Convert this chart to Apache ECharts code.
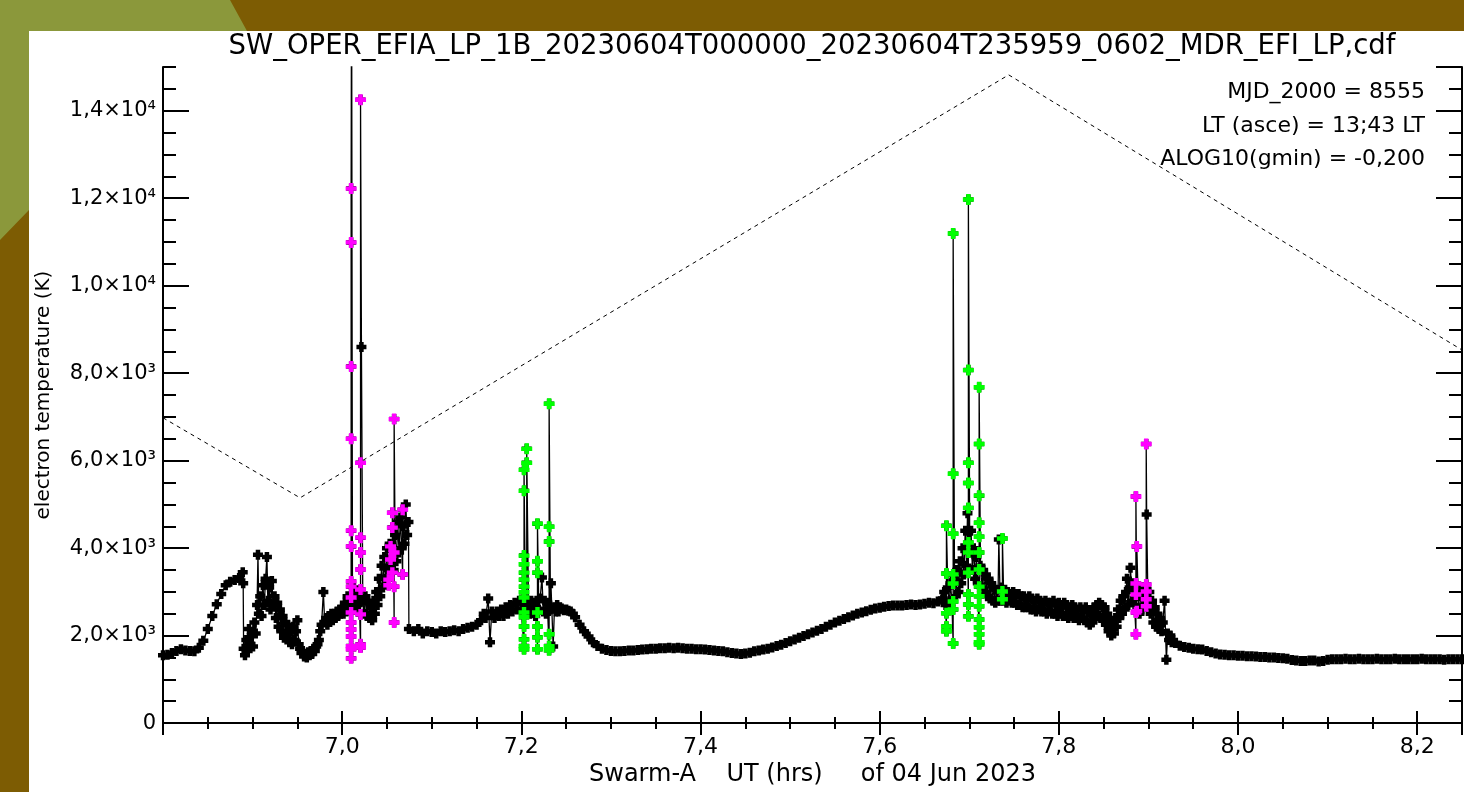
<!DOCTYPE html>
<html>
<head>
<meta charset="utf-8">
<script src="https://cdn.jsdelivr.net/npm/echarts@6/dist/echarts.min.js"></script>
<style>
  html, body { margin: 0; padding: 0; }
  body { width: 1464px; height: 792px; background: #7d5c03; position: relative; overflow: hidden; }
  #leaf { position: absolute; left: 0; top: 0; width: 260px; height: 260px; background: #8b983b;
          clip-path: polygon(0 0, 230px 0, 247px 31px, 29px 31px, 29px 210px, 0 240px); }
  #panel { position: absolute; left: 29px; top: 31px; right: 0; bottom: 0; background: #fff; }
  #chart { position: absolute; left: 0; top: 0; width: 1464px; height: 792px; }
</style>
</head>
<body>
<div id="leaf"></div>
<div id="panel"></div>
<div id="chart"></div>
<script>
// electron temperature (UT hours, K)
var teBlack = [
  [6.800,1550],[6.805,1560],[6.810,1600],[6.815,1650],[6.820,1690],[6.825,1660],[6.830,1650],[6.835,1640],
  [6.840,1720],[6.845,1880],[6.850,2150],[6.855,2450],[6.860,2720],[6.865,2950],[6.870,3150],[6.875,3230],
  [6.880,3270],[6.885,3320],[6.889,3450],[6.8895,3200],
  [6.8900,1700],[6.8915,1550],[6.893,1900],[6.8945,1650],[6.896,2150],[6.8975,1800],[6.899,2000],[6.9005,1750],
  [6.902,2300],[6.9035,2050],[6.905,2700],[6.906,3850],[6.907,2500],[6.9085,2900],[6.910,2450],[6.9115,3150],
  [6.913,2700],[6.9145,3300],[6.916,3800],[6.917,2800],[6.9185,3100],[6.920,2600],[6.9215,3250],[6.923,2700],
  [6.9245,2900],[6.926,2400],[6.9275,2750],[6.929,2200],[6.9305,2600],[6.932,2100],[6.9335,2450],[6.935,1950],
  [6.9365,2300],[6.938,2000],[6.9395,2250],[6.941,1850],[6.9425,2100],[6.944,1800],[6.9455,2200],[6.947,1900],
  [6.9485,2100],[6.950,2350],[6.9515,1800],[6.953,1700],[6.9545,1600],[6.956,1650],[6.9575,1520],[6.959,1580],
  [6.9605,1500],[6.962,1620],[6.9635,1550],[6.965,1650],[6.9665,1580],[6.968,1700],[6.9695,1650],[6.971,1750],
  [6.9725,1800],[6.974,1900],[6.9755,2100],[6.977,2250],[6.979,3000],[6.9805,2300],[6.982,2400],[6.9835,2250],
  [6.985,2450],[6.9865,2350],[6.988,2500],[6.9895,2350],[6.991,2500],[6.9925,2400],[6.994,2550],[6.9955,2450],
  [6.997,2600],[6.9985,2500],[7.000,2650],[7.0015,2500],[7.003,2750],[7.0045,2550],[7.006,2900],[7.0075,2650],
  [7.009,2800],[7.0105,18000],[7.0115,2700],[7.013,3100],[7.0145,2600],[7.016,3000],[7.0175,2700],[7.019,2900],
  [7.0215,8600],
  [7.023,2800],[7.0245,2500],[7.026,2900],[7.0275,2450],[7.029,2750],[7.0305,2400],[7.032,2650],[7.0335,2350],
  [7.035,2800],[7.0365,2500],[7.038,3000],[7.0395,2700],[7.041,3300],[7.0425,2900],[7.044,3600],[7.0455,3100],
  [7.047,3800],[7.0485,3300],[7.050,4000],[7.0515,3500],[7.053,4100],[7.0545,3600],[7.056,4000],[7.0575,3500],
  [7.059,4300],[7.0605,3700],[7.062,4600],[7.0635,3900],[7.065,4700],[7.0665,4000],[7.068,4500],[7.0695,4100],
  [7.071,5000],[7.0725,4300],[7.074,4600],[7.0745,2150],
  [7.080,2100],[7.085,2150],[7.090,2050],[7.095,2100],[7.100,2080],[7.105,2050],[7.110,2100],[7.115,2080],
  [7.120,2100],[7.125,2120],[7.130,2100],[7.135,2150],[7.140,2180],[7.145,2200],[7.150,2250],[7.155,2350],
  [7.158,2500],[7.160,2400],[7.163,2850],[7.165,1850],[7.167,2550],[7.170,2400],[7.1725,2550],[7.175,2450],
  [7.1775,2600],[7.180,2450],[7.1825,2650],[7.185,2500],[7.1875,2700],[7.190,2550],[7.1925,2750],[7.195,2600],
  [7.1975,2800],[7.200,2600],[7.2045,2750],[7.206,2500],[7.208,2700],[7.2095,2500],[7.211,2800],[7.2125,2550],
  [7.214,2750],[7.2155,2450],[7.217,2800],[7.2195,2600],[7.221,2850],[7.223,3330],[7.2245,2550],[7.226,2800],
  [7.2275,2500],[7.229,2750],[7.2325,2600],[7.233,3200],[7.2355,1750],[7.237,2650],[7.2385,2550],[7.240,2700],
  [7.2415,2550],[7.243,2650],[7.245,2620],[7.2475,2580],[7.250,2600],[7.2525,2570],[7.255,2550],[7.2575,2500],
  [7.260,2420],[7.265,2250],[7.270,2100],[7.275,1980],[7.280,1850],[7.285,1760],[7.290,1700],[7.295,1670],
  [7.300,1650],[7.305,1645],[7.310,1640],
  [7.315,1650],[7.320,1660],[7.325,1660],[7.330,1670],[7.335,1680],[7.340,1690],[7.345,1700],[7.350,1700],
  [7.355,1710],[7.360,1710],[7.365,1720],[7.370,1710],[7.375,1720],[7.380,1710],[7.385,1700],[7.390,1700],
  [7.395,1690],[7.400,1690],[7.405,1680],[7.410,1670],[7.415,1660],[7.420,1650],[7.425,1640],[7.430,1620],
  [7.435,1600],[7.440,1590],[7.445,1580],[7.450,1590],[7.455,1610],[7.460,1640],[7.465,1660],[7.470,1680],
  [7.475,1700],[7.480,1730],[7.485,1760],[7.490,1790],[7.495,1830],[7.500,1870],[7.505,1910],[7.510,1950],
  [7.515,1990],[7.520,2030],[7.525,2070],[7.530,2110],[7.535,2150],[7.540,2200],[7.545,2250],[7.550,2300],
  [7.555,2340],[7.560,2380],[7.565,2420],[7.570,2460],[7.575,2500],[7.580,2530],[7.585,2560],[7.590,2590],
  [7.595,2620],[7.600,2640],[7.605,2660],[7.610,2680],[7.615,2690],[7.620,2690],[7.625,2690],[7.630,2700],
  [7.635,2710],[7.640,2700],[7.645,2710],[7.650,2730],[7.655,2750],[7.660,2740],[7.665,2780],[7.670,2820],
  [7.6705,2850],[7.672,3000],[7.6735,2700],[7.676,3100],[7.6775,2700],[7.679,3200],[7.6805,2800],[7.6835,3300],
  [7.685,2900],[7.6865,3500],[7.688,3000],[7.6895,3700],[7.691,3200],[7.6925,4000],[7.694,3400],[7.6955,4400],
  [7.697,3600],[7.698,4800],[7.7005,3900],[7.702,4400],[7.7035,3500],[7.705,4000],[7.7065,3300],[7.708,3800],
  [7.7095,3200],[7.7125,3600],[7.714,3100],[7.7155,3500],[7.717,3000],[7.7185,3400],[7.720,2900],[7.7215,3300],
  [7.723,2850],[7.7245,3200],[7.726,2800],[7.7275,3100],[7.729,2750],[7.7305,3050],[7.732,2800],[7.733,4200],
  [7.7345,2800],[7.736,3100],[7.7385,2800],[7.740,3050],[7.7415,2750],[7.743,3000],[7.7445,2800],[7.746,2950],
  [7.7475,2750],[7.749,3000],[7.7505,2750],[7.752,2950],[7.7535,2700],[7.755,2950],[7.7565,2700],[7.758,2900],
  [7.7595,2650],[7.761,2900],[7.7625,2650],[7.764,2850],[7.7655,2650],[7.767,2900],[7.7685,2600],[7.770,2850],
  [7.7715,2600],[7.773,2800],[7.7745,2550],[7.776,2850],[7.7775,2600],[7.779,2800],[7.7805,2550],[7.782,2750],
  [7.7835,2550],[7.785,2800],[7.7865,2500],[7.788,2750],[7.7895,2550],[7.791,2750],[7.7925,2500],[7.794,2800],
  [7.7955,2500],[7.797,2700],[7.7985,2450],[7.800,2750],[7.8015,2500],[7.803,2700],[7.8045,2450],[7.806,2750],
  [7.8075,2450],[7.809,2700],[7.8105,2400],[7.812,2650],[7.8135,2450],[7.815,2700],[7.8165,2400],[7.818,2650],
  [7.8195,2400],[7.821,2600],[7.8225,2350],[7.824,2650],[7.8255,2400],[7.827,2600],[7.8285,2350],[7.830,2650],
  [7.8315,2300],[7.833,2550],[7.8345,2250],[7.836,2500],[7.8375,2300],[7.839,2650],[7.8405,2400],[7.842,2700],
  [7.8435,2450],[7.845,2750],[7.8465,2400],[7.848,2700],[7.8495,2350],[7.851,2650],[7.8525,2250],[7.854,2500],
  [7.8555,2100],[7.857,2350],[7.8585,2000],[7.860,2250],[7.8615,2050],[7.863,2400],[7.8645,2200],[7.866,2600],
  [7.8675,2400],[7.869,2800],[7.8705,2500],[7.872,2900],[7.8735,2600],[7.875,3000],[7.876,3300],[7.8775,2700],
  [7.879,3100],[7.880,3550],[7.8815,2800],[7.883,3200],[7.8845,2700],[7.8885,2900],[7.890,2500],[7.8915,3000],
  [7.893,2600],[7.8945,3100],[7.896,2700],[7.898,4770],[7.8995,2700],[7.901,3000],[7.9025,2500],[7.904,2800],
  [7.9055,2300],[7.907,2650],[7.9085,2200],[7.910,2500],[7.9115,2150],[7.913,2400],[7.9145,2100],[7.916,2300],
  [7.918,2800],[7.920,1450],[7.9215,2050],[7.923,1900],[7.9245,2000],[7.926,1850],[7.9275,1900],[7.930,1830],
  [7.935,1770],[7.940,1740],[7.945,1720],[7.950,1700],[7.955,1690],[7.960,1680],[7.965,1650],[7.970,1620],
  [7.975,1590],[7.980,1570],[7.985,1560],[7.990,1550],[7.995,1550],[8.000,1540],
  [8.005,1540],[8.010,1530],[8.015,1530],[8.020,1520],[8.025,1510],[8.030,1510],[8.035,1500],[8.040,1500],
  [8.045,1490],[8.050,1480],[8.055,1470],[8.060,1440],[8.065,1430],[8.070,1420],[8.075,1420],[8.080,1430],
  [8.085,1430],[8.090,1410],[8.095,1420],[8.100,1450],[8.105,1460],[8.110,1460],[8.115,1460],[8.120,1470],
  [8.125,1460],[8.130,1460],[8.135,1470],[8.140,1460],[8.145,1460],[8.150,1460],[8.155,1470],[8.160,1460],
  [8.165,1460],[8.170,1460],[8.175,1470],[8.180,1460],[8.185,1460],[8.190,1460],[8.195,1460],[8.200,1460],
  [8.205,1470],[8.210,1460],[8.215,1460],[8.220,1460],[8.225,1460],[8.230,1450],[8.235,1460],[8.240,1460],
  [8.245,1460],[8.250,1460]
];

// flagged samples (magenta / green), grouped by time
var magentaTimes = [7.010, 7.0205, 7.052, 7.054, 7.056, 7.058, 7.0675, 7.886, 7.887, 7.8975];
var magentaValues = [
  [1480,1690,1760,1980,2140,2300,2530,2870,3120,3240,4040,4400,6500,8150,10990,12220],
  [1730,1800,2485,3055,3510,3900,4240,5950,14250],
  [3150,3280],
  [3740,4040],
  [3440,4470,4810],
  [2300,3120,3900,6950],
  [3400,4880],
  [2030,2530,2940,3190,5180],
  [2560,4040],
  [2670,2830,3010,3170,6380]
];
var greenTimes = [7.203, 7.206, 7.218, 7.231, 7.6745, 7.682, 7.699, 7.711, 7.737];
var greenValues = [
  [1690,1760,1915,2210,2420,2530,2870,2990,3120,3280,3440,3630,3830,5310,5790],
  [5950,6270],
  [1690,1960,2210,2530,3440,3700,4560],
  [1665,1760,2030,4150,4490,7300],
  [2100,2210,2510,3420,4510],
  [1820,2600,2780,3190,3400,4330,5700,11195],
  [2440,2710,2940,3440,3900,4130,4920,5490,5950,8070,11970],
  [1800,1850,2030,2190,2370,2670,2900,3120,3510,3900,4260,4580,5200,6380,7680],
  [2830,3010,4220]
];

// dashed reference curve
var dashTimes = [6.800, 6.953, 7.744, 8.250];
var dashValues = [6980, 5150, 14820, 8530];

var titleText = 'SW_OPER_EFIA_LP_1B_20230604T000000_20230604T235959_0602_MDR_EFI_LP,cdf';
var infoLines = ['MJD_2000 = 8555', 'LT (asce) = 13;43 LT', 'ALOG10(gmin) = -0,200'];

function flatten(times, values) {
  var out = [];
  times.forEach(function (t, i) {
    values[i].forEach(function (v) { out.push([t, v]); });
  });
  return out;
}

var magentaPts = flatten(magentaTimes, magentaValues);
var greenPts = flatten(greenTimes, greenValues);
// black trace goes through every sample, flagged or not
var allPts = teBlack.concat(magentaPts, greenPts)
  .map(function (p, i) { return [p[0], p[1], i]; })
  .sort(function (a, b) { return a[0] - b[0] || a[2] - b[2]; })
  .map(function (p) { return [p[0], p[1]]; });
var dashPts = dashTimes.map(function (t, i) { return [t, dashValues[i]]; });

var FONT = 'DejaVu Sans';
var sup = { 3: '\u00b3', 4: '\u2074' };
function sciLabel(v) {
  if (v === 0) return '0';
  var e = Math.floor(Math.log10(v) + 1e-9);
  var m = (v / Math.pow(10, e)).toFixed(1).replace('.', ',');
  return m + '\u00d710' + sup[e];
}

var smallPlus = 'path://M2.75,0H7.25V2.75H10V7.25H7.25V10H2.75V7.25H0V2.75H2.75Z';
var bigPlus = 'path://M3,0H7V3H10V7H7V10H3V7H0V3H3Z';

var axisLine = { show: true, lineStyle: { color: '#000', width: 2 } };
function tick(len) { return { show: true, inside: true, length: len, lineStyle: { color: '#000', width: 2 } }; }

function xAx(pos, step, len, labels) {
  return {
    type: 'value', position: pos, min: 6.8, max: 8.25, interval: step,
    axisLine: len === 12 ? axisLine : { show: false },
    axisTick: tick(len),
    splitLine: { show: false },
    axisLabel: labels ? {
      show: true, showMinLabel: false, showMaxLabel: false, margin: 13,
      color: '#000', fontFamily: FONT, fontSize: 22,
      formatter: function (v) { return v.toFixed(1).replace('.', ','); }
    } : { show: false }
  };
}
function yAx(pos, step, len, labels) {
  return {
    type: 'value', position: pos, min: 0, max: 15000, interval: step,
    axisLine: len === 26 ? axisLine : { show: false },
    axisTick: tick(len),
    splitLine: { show: false },
    axisLabel: labels ? {
      show: true, showMaxLabel: false, margin: 7,
      color: '#000', fontFamily: FONT, fontSize: 21, formatter: sciLabel
    } : { show: false }
  };
}

var chartDom = document.getElementById('chart');
var myChart = echarts.init(chartDom);

var xMain = xAx('bottom', 0.2, 12, true);
xMain.name = 'Swarm-A    UT (hrs)     of 04 Jun 2023';
xMain.nameLocation = 'middle';
xMain.nameGap = 35;
xMain.nameTextStyle = { color: '#000', fontFamily: FONT, fontSize: 24 };

var yMain = yAx('left', 2000, 26, true);
yMain.name = 'electron temperature (K)';
yMain.nameLocation = 'middle';
yMain.nameGap = 109;
yMain.nameTextStyle = { color: '#000', fontFamily: FONT, fontSize: 20 };

var infoFont = '22px "DejaVu Sans"';

var option = {
  animation: false,
  grid: { left: 163, top: 67, right: 2, bottom: 68, containLabel: false },
  xAxis: [xMain, xAx('bottom', 0.05, 6, false), xAx('top', 0.2, 12, false), xAx('top', 0.05, 6, false)],
  yAxis: [yMain, yAx('left', 500, 13, false), yAx('right', 2000, 26, false), yAx('right', 500, 13, false)],
  graphic: [
    { type: 'text', x: 812, y: 47, silent: true,
      style: { text: titleText, fill: '#000', font: '27.5px "DejaVu Sans"', align: 'center', verticalAlign: 'middle' } },
    { type: 'text', x: 1425, y: 92, silent: true,
      style: { text: infoLines[0], fill: '#000', font: infoFont, align: 'right', verticalAlign: 'middle' } },
    { type: 'text', x: 1425, y: 126, silent: true,
      style: { text: infoLines[1], fill: '#000', font: infoFont, align: 'right', verticalAlign: 'middle' } },
    { type: 'text', x: 1425, y: 159, silent: true,
      style: { text: infoLines[2], fill: '#000', font: infoFont, align: 'right', verticalAlign: 'middle' } }
  ],
  series: [
    {
      type: 'line', data: dashPts, symbol: 'none', silent: true, z: 2,
      lineStyle: { color: '#000', width: 1, type: [4, 4] }
    },
    {
      type: 'line', data: allPts, symbol: smallPlus, symbolSize: 10, showSymbol: true, silent: true, z: 3,
      itemStyle: { color: '#000' },
      lineStyle: { color: '#000', width: 1.3 }
    },
    {
      type: 'scatter', data: magentaPts, symbol: bigPlus, symbolSize: 11, silent: true, z: 4,
      itemStyle: { color: '#ff00ff', opacity: 1 }
    },
    {
      type: 'scatter', data: greenPts, symbol: bigPlus, symbolSize: 11, silent: true, z: 4,
      itemStyle: { color: '#00ff00', opacity: 1 }
    }
  ]
};

myChart.setOption(option);

window.addEventListener('resize', function () {
  myChart.resize();
});
</script>
</body>
</html>
